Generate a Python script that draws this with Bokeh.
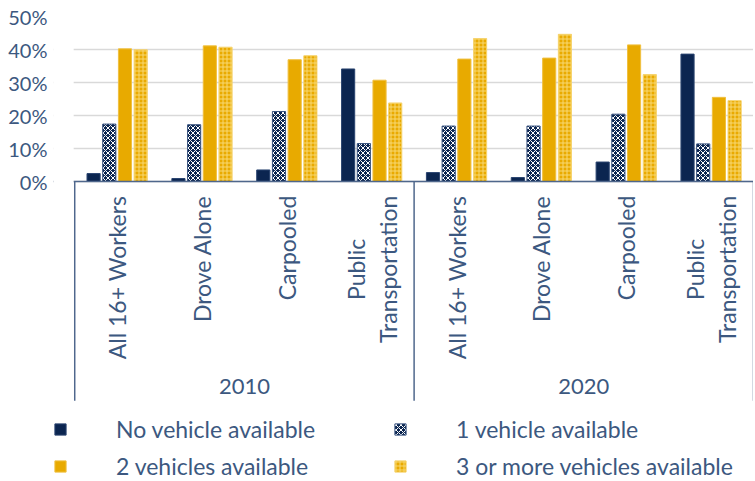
from bokeh.plotting import figure
from bokeh.models import (ColumnDataSource, FixedTicker, PrintfTickFormatter, Range1d,
                          Span, Legend, LegendItem, BoxAnnotation)
from bokeh.core.properties import value
from bokeh.embed import file_html
from bokeh.resources import INLINE

years = ["2010", "2020"]
modes = ["All 16+ Workers", "Drove Alone", "Carpooled", "Public Transportation"]
mode_labels = ["All 16+ Workers", "Drove Alone", "Carpooled", "Public\nTransportation"]
no_vehicle = [2.4, 0.9, 3.5, 34.1, 2.7, 1.2, 5.9, 38.6]
one_vehicle = [17.4, 17.2, 21.2, 11.5, 16.8, 16.8, 20.4, 11.4]
two_vehicles = [40.2, 41.1, 36.9, 30.7, 37.1, 37.4, 41.4, 25.5]
three_plus = [39.9, 40.7, 38.1, 23.8, 43.3, 44.6, 32.4, 24.5]
series_names = ["No vehicle available", "1 vehicle available",
                "2 vehicles available", "3 or more vehicles available"]
y_ticks = [0, 10, 20, 30, 40, 50]

FONT = "Lato"
TEXT = "#3C5880"
NAVY = "#0B2550"
GOLD = "#E8AA00"
LINE = "#4F678C"

styles = [
    dict(fill_color=NAVY, line_color="#2A4470", line_width=1),
    dict(fill_color=NAVY, line_color="#3A5480", line_width=1,
         hatch_pattern="diagonal_cross", hatch_color="white", hatch_scale=5, hatch_weight=1),
    dict(fill_color=GOLD, line_color="#F0C040", line_width=1),
    dict(fill_color="#E9AA00", line_color="#F6D470", line_width=1,
         hatch_pattern="cross", hatch_color="#F8D872", hatch_scale=4, hatch_weight=1),
]
offsets = [-0.2775, -0.0925, 0.0925, 0.2775]
values = [no_vehicle, one_vehicle, two_vehicles, three_plus]

# category slots: one unit per (year, mode), groups side by side
n_cat = len(years) * len(modes)
centers = [i + 0.5 for i in range(n_cat)]
group_centers = [len(modes) * (g + 0.5) for g in range(len(years))]
group_edges = [len(modes) * g for g in range(len(years) + 1)]

p = figure(width=753, height=479, x_range=Range1d(-0.25, n_cat), y_range=(-90.3, 50),
           x_axis_location=None, output_backend="svg", toolbar_location=None,
           min_border_left=53, min_border_top=16, min_border_right=0, min_border_bottom=0)
p.outline_line_color = None
p.xgrid.visible = False
p.yaxis.ticker = FixedTicker(ticks=y_ticks)
p.yaxis.formatter = PrintfTickFormatter(format="%d%%")
p.yaxis.axis_line_color = None
p.yaxis.major_tick_line_color = None
p.yaxis.minor_tick_line_color = None
p.yaxis.major_label_standoff = 0
p.yaxis.major_label_text_font = FONT
p.yaxis.major_label_text_font_size = "20px"
p.yaxis.major_label_text_color = TEXT
p.ygrid.grid_line_color = "#D9D9D9"
p.ygrid.grid_line_width = 1.5

W = 0.155
rs = []
for vals, off, st in zip(values, offsets, styles):
    s = ColumnDataSource(dict(x=[c + off for c in centers], top=vals))
    rs.append(p.vbar(x="x", top="top", width=W, source=s, **st))

# axis line at zero, hidden left of the first group
p.add_layout(Span(location=0, dimension="width", line_color=LINE, line_width=1.5))
p.add_layout(BoxAnnotation(right=-0.012, fill_color="white", fill_alpha=1,
                           line_color=None, level="annotation"))
sep = ColumnDataSource(dict(x=group_edges, y0=[0] * 3, y1=[-66.4] * 3))
p.segment(x0="x", y0="y0", x1="x", y1="y1", source=sep, line_color=LINE, line_width=1.5)

# category labels
lab = ColumnDataSource(dict(x=centers, y=[-4.3] * n_cat, t=mode_labels * len(years)))
p.text(x="x", y="y", text="t", source=lab, angle=1.5708, anchor="center_right",
       text_align="center", text_baseline="middle", text_font=value(FONT),
       text_font_size="23px", text_color=TEXT, text_line_height=1.15)
grp = ColumnDataSource(dict(x=group_centers, y=[-62.1] * 2, t=years))
p.text(x="x", y="y", text="t", source=grp, text_align="center", text_baseline="middle",
       text_font=value(FONT), text_font_size="22px", text_color=TEXT)

common = dict(glyph_width=14, glyph_height=14, label_standoff=49, label_width=200,
              spacing=77, padding=0, margin=0, orientation="horizontal",
              border_line_color=None, background_fill_alpha=0,
              label_text_font=FONT, label_text_font_size="23px", label_text_color=TEXT)
leg1 = Legend(items=[LegendItem(label=series_names[0], renderers=[rs[0]]),
                     LegendItem(label=series_names[1], renderers=[rs[1]])],
              location=(0, 36), **common)
leg2 = Legend(items=[LegendItem(label=series_names[2], renderers=[rs[2]]),
                     LegendItem(label=series_names[3], renderers=[rs[3]])],
              location=(0, -1), **common)
p.add_layout(leg1)
p.add_layout(leg2)

open("out.html", "w").write(file_html(p, INLINE))
